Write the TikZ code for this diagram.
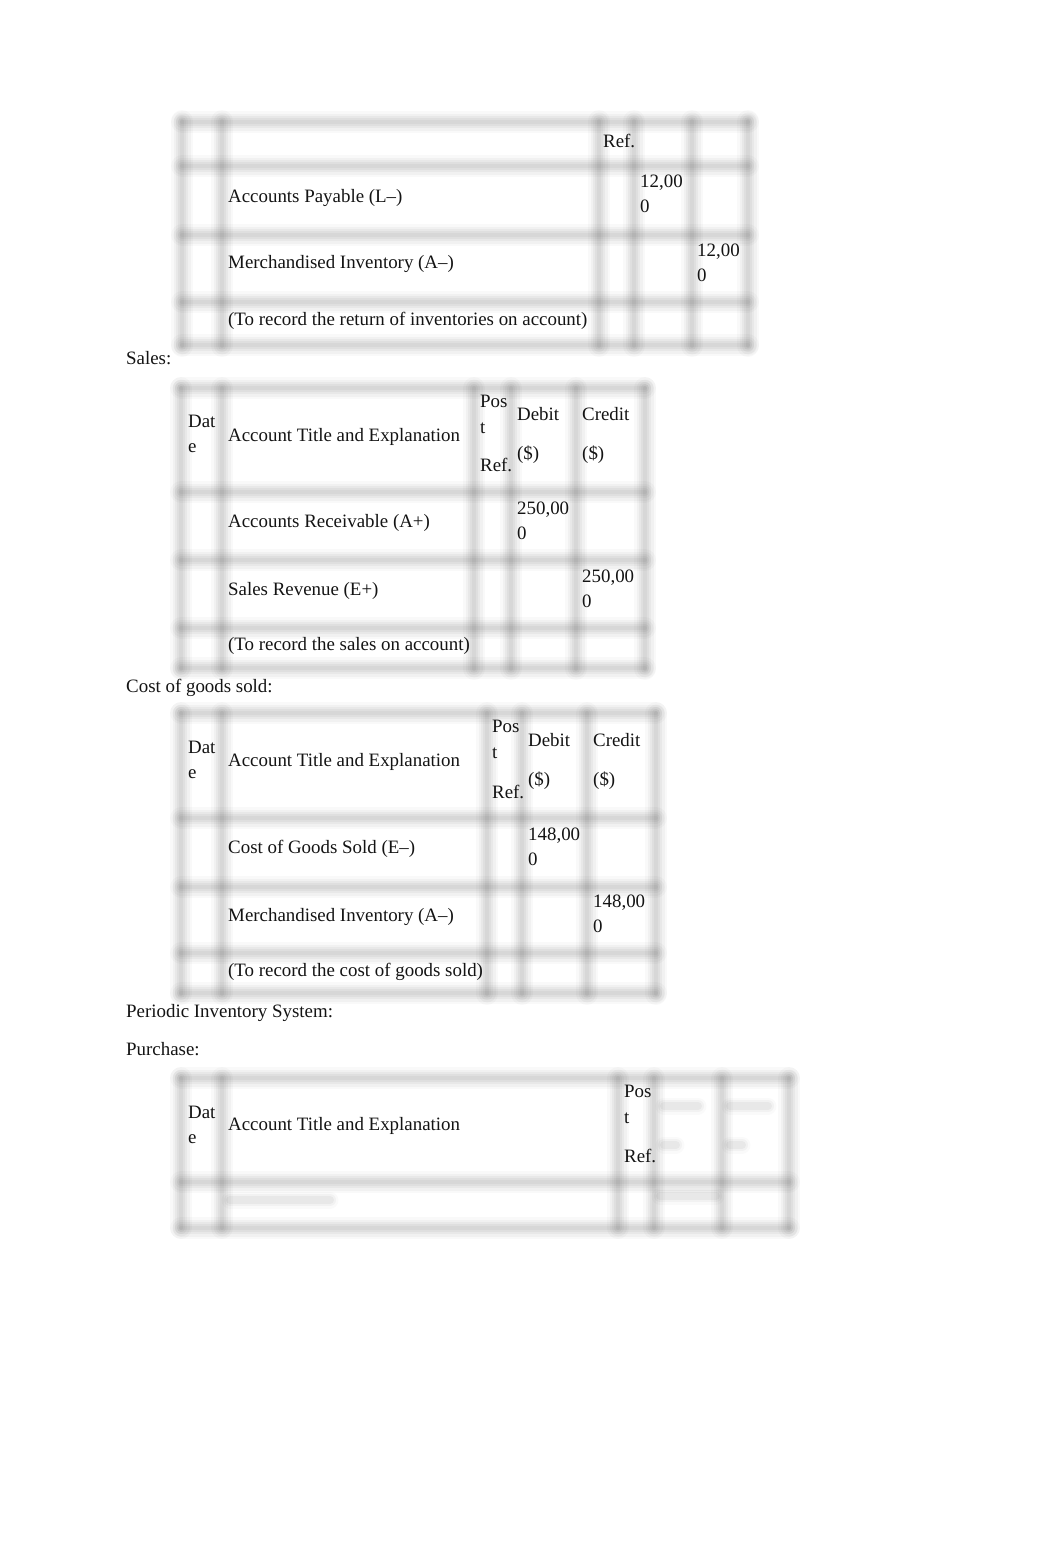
\documentclass[tikz,border=0pt]{standalone}
\usepackage{fontspec}
\setmainfont{Liberation Serif}
\begin{document}
\begin{tikzpicture}[x=1pt,y=-1pt,
  txt/.style={anchor=base west,inner sep=0pt,font=\fontsize{18.9}{25}\selectfont,text=black!92},
  gl/.style={line cap=round,black,opacity=0.035,line width=4pt,
    preaction={draw,line cap=round,black,opacity=0.035,line width=8pt},
    preaction={draw,line cap=round,black,opacity=0.035,line width=12pt},
    preaction={draw,line cap=round,black,opacity=0.03,line width=17pt},
    preaction={draw,line cap=round,black,opacity=0.025,line width=22pt}},
  blob/.style={line cap=round,black,opacity=0.04,line width=8pt,
    preaction={draw,line cap=round,black,opacity=0.03,line width=12pt},
    preaction={draw,line cap=round,black,opacity=0.02,line width=17pt}}
]
\useasboundingbox[fill=white] (0,0) rectangle (1062,1561);
\newcommand\tx[4]{\node[txt] (#1) at (#2,#3+6) {#4};}
\newcommand\vl[3]{\draw[gl] (#1,#2) -- (#1,#3);}
\newcommand\hl[3]{\draw[gl] (#2,#1) -- (#3,#1);}

% ---------- Table 1 ----------
\foreach \x in {182,222,599,634,692,748} {\vl{\x}{121}{346}}
\foreach \y in {122,166,235,302,345} {\hl{\y}{182}{748}}
\tx{t1ref}{603}{141}{Ref.}
\tx{t1r1}{228}{196}{Accounts Payable (L–)}
\tx{t1d1a}{640}{181}{12,00}
\tx{t1d1b}{640}{206}{0}
\tx{t1r2}{228}{262}{Merchandised Inventory (A–)}
\tx{t1c2a}{697}{250}{12,00}
\tx{t1c2b}{697}{275}{0}
\tx{t1r3}{228}{319}{(To record the return of inventories on account)}

\tx{sales}{126}{358}{Sales:}

% ---------- Table 2 ----------
\foreach \x in {181,222,474,511,576,645} {\vl{\x}{388}{669}}
\foreach \y in {388,492,560,628,668} {\hl{\y}{181}{645}}
\tx{t2da}{188}{421}{Dat}
\tx{t2db}{188}{446}{e}
\tx{t2h}{228}{435}{Account Title and Explanation}
\tx{t2pa}{480}{401}{Pos}
\tx{t2pb}{480}{427}{t}
\tx{t2pc}{480}{465}{Ref.}
\tx{t2dba}{517}{414}{Debit}
\tx{t2dbb}{517}{453}{(\$)}
\tx{t2cra}{582}{414}{Credit}
\tx{t2crb}{582}{453}{(\$)}
\tx{t2r1}{228}{521}{Accounts Receivable (A+)}
\tx{t2d1a}{517}{508}{250,00}
\tx{t2d1b}{517}{533}{0}
\tx{t2r2}{228}{589}{Sales Revenue (E+)}
\tx{t2c2a}{582}{576}{250,00}
\tx{t2c2b}{582}{601}{0}
\tx{t2r3}{228}{644}{(To record the sales on account)}

\tx{cogs}{126}{686}{Cost of goods sold:}

% ---------- Table 3 ----------
\foreach \x in {181,222,487,522,587,656} {\vl{\x}{713}{994}}
\foreach \y in {713,818,887,953,993} {\hl{\y}{181}{656}}
\tx{t3da}{188}{747}{Dat}
\tx{t3db}{188}{772}{e}
\tx{t3h}{228}{760}{Account Title and Explanation}
\tx{t3pa}{492}{726}{Pos}
\tx{t3pb}{492}{752}{t}
\tx{t3pc}{492}{792}{Ref.}
\tx{t3dba}{528}{740}{Debit}
\tx{t3dbb}{528}{779}{(\$)}
\tx{t3cra}{593}{740}{Credit}
\tx{t3crb}{593}{779}{(\$)}
\tx{t3r1}{228}{847}{Cost of Goods Sold (E–)}
\tx{t3d1a}{528}{834}{148,00}
\tx{t3d1b}{528}{859}{0}
\tx{t3r2}{228}{915}{Merchandised Inventory (A–)}
\tx{t3c2a}{593}{901}{148,00}
\tx{t3c2b}{593}{926}{0}
\tx{t3r3}{228}{970}{(To record the cost of goods sold)}

\tx{pis}{126}{1011}{Periodic Inventory System:}
\tx{purch}{126}{1049}{Purchase:}

% ---------- Table 4 ----------
\foreach \x in {181,222,618,654,722,789} {\vl{\x}{1078}{1228}}
\foreach \y in {1078,1182,1228} {\hl{\y}{181}{789}}
\tx{t4da}{188}{1112}{Dat}
\tx{t4db}{188}{1137}{e}
\tx{t4h}{228}{1124}{Account Title and Explanation}
\tx{t4pa}{624}{1091}{Pos}
\tx{t4pb}{624}{1117}{t}
\tx{t4pc}{624}{1156}{Ref.}
% blurred (unreadable) contents
\draw[blob] (664,1106) -- (698,1106);
\draw[blob] (664,1145) -- (676,1145);
\draw[blob] (730,1106) -- (768,1106);
\draw[blob] (730,1145) -- (742,1145);
\draw[blob] (230,1200) -- (330,1200);
\draw[blob] (660,1196) -- (716,1196);
\end{tikzpicture}
\end{document}
